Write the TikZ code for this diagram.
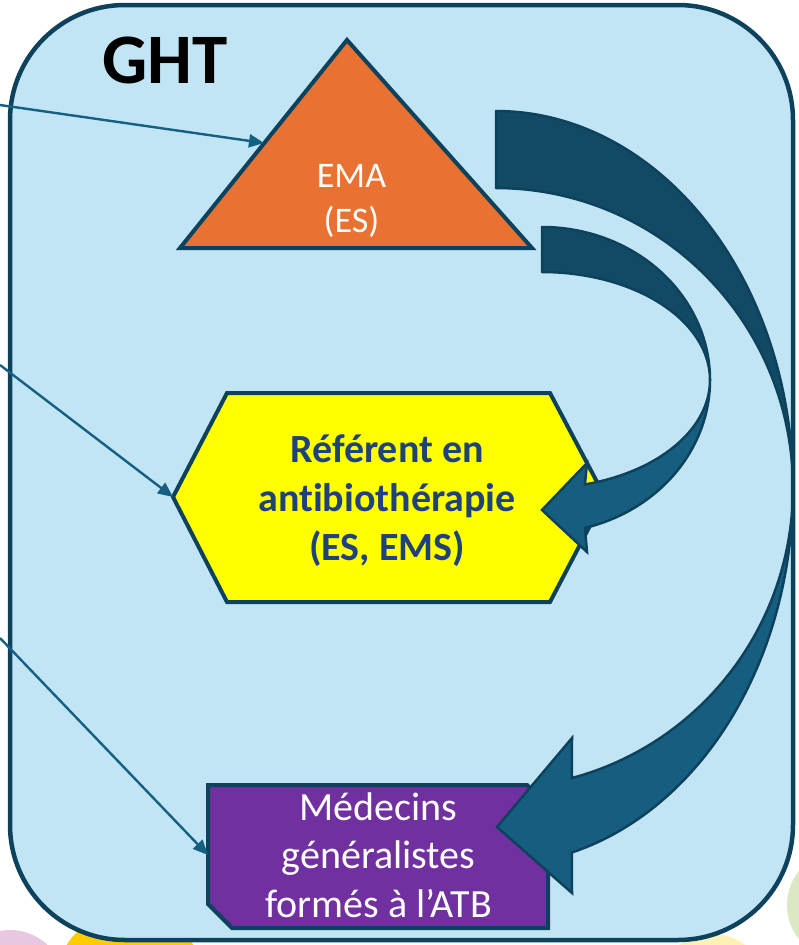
\documentclass[tikz,border=0pt]{standalone}
\usepackage{fontspec}
\setmainfont{Carlito}[Ligatures=NoCommon]
\usetikzlibrary{arrows.meta}
\definecolor{ghtfill}{RGB}{193,229,245}
\definecolor{ghtline}{RGB}{14,66,92}
\definecolor{bandback}{RGB}{18,74,101}
\definecolor{bandfront}{RGB}{22,94,128}
\definecolor{thinarrow}{RGB}{21,96,130}
\definecolor{emaorange}{RGB}{233,113,50}
\definecolor{hexyellow}{RGB}{255,255,0}
\definecolor{hextext}{RGB}{31,66,122}
\definecolor{mgpurple}{RGB}{112,48,160}
\definecolor{dotpink}{RGB}{232,200,224}
\definecolor{dotgold}{RGB}{255,204,0}
\definecolor{dotcream}{RGB}{255,240,180}
\definecolor{dotgreen}{RGB}{220,232,196}
\begin{document}
\begin{tikzpicture}[x=1pt,y=-1pt,
  shapeline/.style={draw=ghtline,line width=4pt,line join=miter},
  link/.style={draw=thinarrow,line width=2.4pt,-{Triangle[length=15pt,width=13pt]}},
  bandb/.style={fill=bandback,draw=ghtline,line width=2.5pt,line join=round},
  bandf/.style={fill=bandfront,draw=ghtline,line width=2.5pt,line join=miter},
]
\useasboundingbox (0,0) rectangle (798,945);
% decorative dots behind the frame
\fill[dotpink] (10,985) circle[radius=55pt];
\fill[dotgold] (130,985) circle[radius=75pt];
\fill[dotcream] (712,990) circle[radius=56pt];
\fill[dotgreen] (842,905) circle[radius=55pt];
% GHT frame
\node[draw=ghtline, fill=ghtfill, line width=4.5pt, rounded corners=115pt,
      minimum width=783pt, minimum height=935pt, inner sep=0pt] (ght) at (401.5,472.5) {};
\node[font=\bfseries\fontsize{71}{85}\selectfont, anchor=base] (ghtlabel) at (165,83) {GHT};
% EMA triangle
\draw[shapeline, fill=emaorange] (347,40) -- (532,248) -- (180,248) -- cycle;
\coordinate (emaL) at (264,143);
% Referent hexagon
\draw[shapeline, fill=hexyellow] (227,393) -- (550,393) -- (605,497) -- (550,602) -- (227,602) -- (173,497) -- cycle;
\coordinate (refL) at (173,497);
% Medecins box (snipped corners)
\draw[shapeline, fill=mgpurple] (208,785) -- (527,785) -- (548,806) -- (548,928) -- (232,928) -- (208,904) -- cycle;
\coordinate (mgL) at (208,855);
% incoming thin arrows
\coordinate (in1) at (0,105);
\coordinate (in2) at (0,365);
\coordinate (in3) at (0,638);
\draw[link] (in1) -- (emaL);
\draw[link] (in2) -- (refL);
\draw[link] (in3) -- (mgL);
% small curved arrow (EMA -> Referent)
\draw[bandb] plot[domain=-90:0, samples=60] ({542+168*cos(\x)},{380+153*sin(\x)})
   -- plot[domain=0:-90, samples=60] ({542+168*cos(\x)},{380+108*sin(\x)}) -- cycle;
\draw[bandf] plot[domain=0:75.2, samples=60] ({542+168*cos(\x)},{380+153*sin(\x)})
   -- (587,552) -- (542,510) -- (587,463)
   -- plot[domain=75.2:0, samples=60] ({542+168*cos(\x)},{380+108*sin(\x)}) -- cycle;
% big curved arrow (EMA -> Medecins)
\draw[bandb] plot[domain=-90:0, samples=80] ({496+297*cos(\x)},{488+377*sin(\x)})
   -- plot[domain=0:-90, samples=80] ({496+297*cos(\x)},{488+300*sin(\x)}) -- cycle;
\draw[bandf] plot[domain=0:75.2, samples=80] ({496+297*cos(\x)},{488+377*sin(\x)})
   -- (572,893) -- (497,827) -- (572,738)
   -- plot[domain=75.2:0, samples=80] ({496+297*cos(\x)},{488+300*sin(\x)}) -- cycle;
% texts (base anchor = baseline of the last line)
\node[font=\fontsize{36}{45}\selectfont, text=white, align=center, anchor=base] (ema) at (351.5,232) {EMA\\(ES)};
\node[font=\bfseries\fontsize{40}{49}\selectfont, text=hextext, align=center, anchor=base] (ref) at (387,560) {Référent en\\antibiothérapie\\(ES, EMS)};
\node[font=\fontsize{40}{48.5}\selectfont, text=white, align=center, anchor=base] (mg) at (378.5,917) {Médecins\\généralistes\\formés à l’ATB};
\end{tikzpicture}
\end{document}
